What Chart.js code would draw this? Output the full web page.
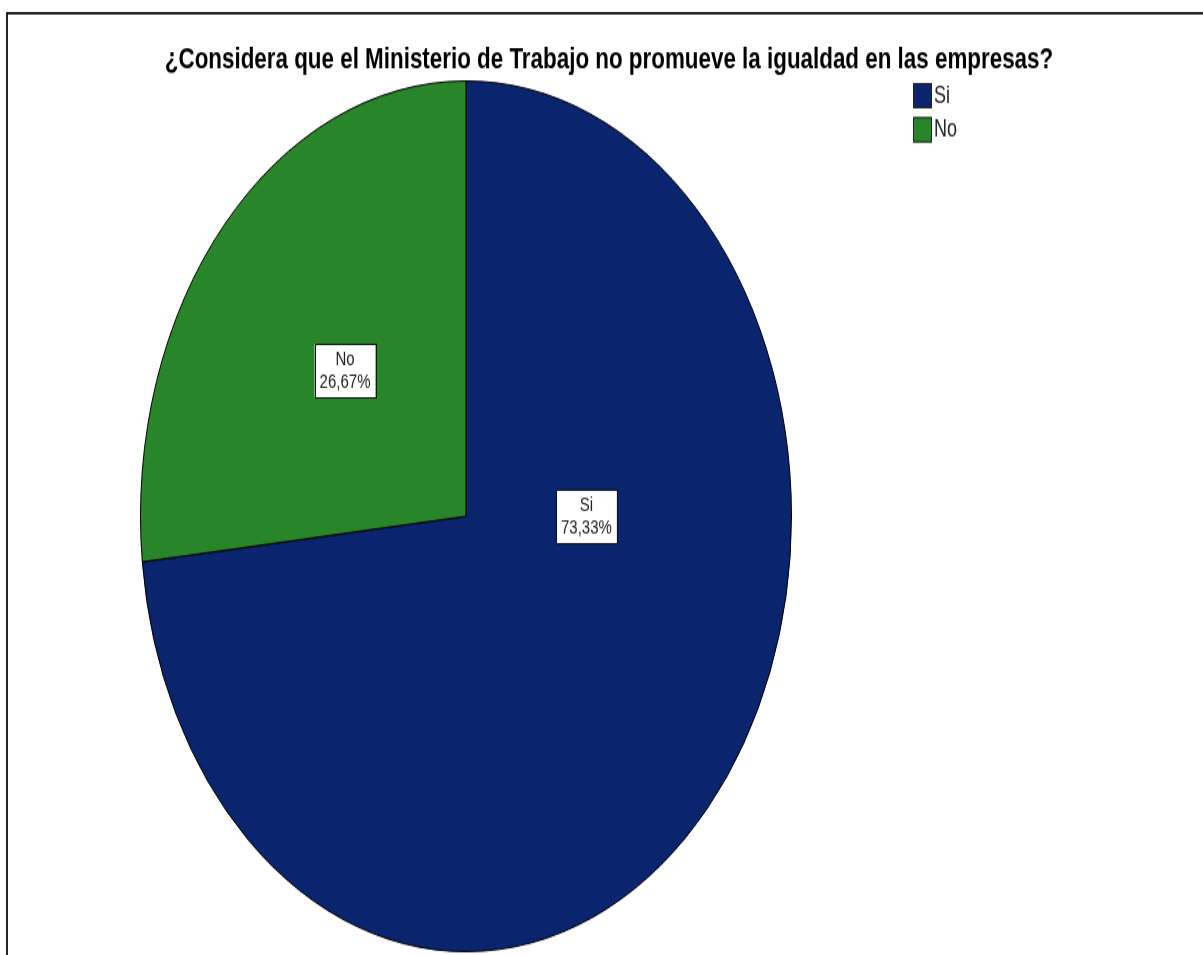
<!DOCTYPE html>
<html>
<head>
<meta charset="utf-8">
<script src="https://cdn.jsdelivr.net/npm/chart.js@4.4.1/dist/chart.umd.min.js"></script>
<style>
  html, body { margin: 0; padding: 0; background: #fff; overflow: hidden; }
  /* the chart is laid out flat and then stretched vertically into an ellipse */
  #wrap { position: absolute; left: 0; top: 0; width: 1203px; height: 714px;
          transform: scaleY(1.3375); transform-origin: 0 0; }
</style>
</head>
<body>
<div id="wrap"><canvas id="chart"></canvas></div>
<script>
const titleText = '¿Considera que el Ministerio de Trabajo no promueve la igualdad en las empresas?';
const categories = ['Si', 'No'];
const percentages = [73.33, 26.67];
const sliceColors = ['#0A246E', '#29852A'];
// label anchor per slice: [angle in degrees (null = middle of slice), fraction of radius]
const labelSpots = [[0, 0.37], [null, 0.5]];

const FONT = '"Liberation Sans", Arial, sans-serif';

function fmtPct(v) {
  return v.toFixed(2).replace('.', ',') + '%';
}

const decorPlugin = {
  id: 'decor',
  beforeDraw(chart) {
    const ctx = chart.ctx;
    ctx.save();
    ctx.fillStyle = '#fff';
    ctx.fillRect(0, 0, chart.width, chart.height);
    // outer frame (top and left edges)
    ctx.strokeStyle = '#000';
    ctx.lineWidth = 1.7;
    ctx.beginPath();
    ctx.moveTo(chart.width + 5, 9.8);
    ctx.lineTo(7, 9.8);
    ctx.lineTo(7, chart.height + 5);
    ctx.stroke();
    // title
    ctx.fillStyle = '#000';
    ctx.font = 'bold 22.4px ' + FONT;
    ctx.textAlign = 'center';
    ctx.textBaseline = 'alphabetic';
    ctx.fillText(titleText, 609, 50.8);
    // legend
    ctx.font = '18px ' + FONT;
    ctx.textAlign = 'left';
    ctx.textBaseline = 'middle';
    categories.forEach((c, i) => {
      const y = 62 + i * 25.5;
      ctx.fillStyle = sliceColors[i];
      ctx.fillRect(913, y, 19, 19);
      ctx.strokeStyle = '#222';
      ctx.lineWidth = 1;
      ctx.strokeRect(913.5, y + 0.5, 18, 18);
      ctx.fillStyle = '#222';
      ctx.fillText(c, 934, y + 10);
    });
    ctx.restore();
  },
  afterDatasetsDraw(chart) {
    const ctx = chart.ctx;
    const meta = chart.getDatasetMeta(0);
    ctx.save();
    ctx.font = '15px ' + FONT;
    ctx.textAlign = 'center';
    ctx.textBaseline = 'middle';
    meta.data.forEach((arc, i) => {
      const p = arc.getProps(['x', 'y', 'startAngle', 'endAngle', 'outerRadius'], true);
      const spot = labelSpots[i];
      const ang = spot[0] === null ? (p.startAngle + p.endAngle) / 2 : spot[0] * Math.PI / 180;
      const cx = p.x + Math.cos(ang) * p.outerRadius * spot[1];
      const cy = p.y + Math.sin(ang) * p.outerRadius * spot[1];
      const l1 = categories[i];
      const l2 = fmtPct(percentages[i]);
      const w = Math.max(ctx.measureText(l1).width, ctx.measureText(l2).width) + 10;
      const h = 40;
      ctx.fillStyle = '#fff';
      ctx.fillRect(cx - w / 2, cy - h / 2, w, h);
      ctx.strokeStyle = '#111';
      ctx.lineWidth = 1;
      ctx.strokeRect(Math.round(cx - w / 2) + 0.5, Math.round(cy - h / 2) + 0.5, Math.round(w), h);
      ctx.fillStyle = '#222';
      ctx.fillText(l1, cx, cy - 8);
      ctx.fillText(l2, cx, cy + 8.5);
    });
    ctx.restore();
  }
};

new Chart(document.getElementById('chart'), {
  type: 'pie',
  data: {
    labels: categories,
    datasets: [{
      data: percentages,
      backgroundColor: sliceColors,
      borderColor: '#000',
      borderWidth: 1
    }]
  },
  options: {
    responsive: true,
    maintainAspectRatio: false,
    animation: false,
    events: [],
    layout: { padding: { left: 140, right: 411, top: 60, bottom: 2 } },
    plugins: {
      legend: { display: false },
      title: { display: false },
      tooltip: { enabled: false }
    }
  },
  plugins: [decorPlugin]
});
</script>
</body>
</html>
